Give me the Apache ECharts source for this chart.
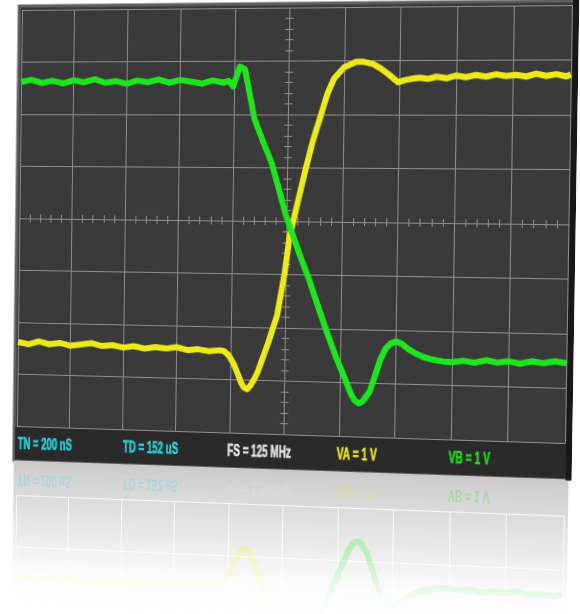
<!DOCTYPE html>
<html><head><meta charset="utf-8">
<script src="https://cdn.jsdelivr.net/npm/echarts@6/dist/echarts.min.js"></script>
<style>html,body{margin:0;padding:0;background:#fff;overflow:hidden}#c{width:580px;height:614px;transform-origin:0 0}</style>
</head><body><div id="c"></div>
<script>
// Channel A (yellow) trace: time in ns, volts (1 V/div, 200 ns/div)
const vaTime  = [-1000,-960,-920,-880,-840,-800,-760,-720,-680,-640,-600,-560,-520,-480,-440,-400,-360,-320,-280,-240,-225,-205,-187,-170,-160,-150,-137,-125,-112,-100,-82,-63,-31,-5,10,38,65,90,117,140,164,200,243,270,303,330,359,393,420,440,470,500,530,565,600,635,670,705,740,775,810,845,880,915,950,985,1000];
const vaVolts = [-2.38,-2.42,-2.36,-2.41,-2.38,-2.43,-2.40,-2.37,-2.42,-2.40,-2.44,-2.41,-2.45,-2.42,-2.44,-2.41,-2.46,-2.44,-2.47,-2.45,-2.46,-2.55,-2.71,-2.92,-3.05,-3.14,-3.17,-3.10,-2.98,-2.85,-2.58,-2.30,-1.77,-0.95,-0.30,0.35,0.97,1.50,1.97,2.38,2.67,2.88,2.98,2.98,2.94,2.86,2.75,2.60,2.64,2.66,2.68,2.66,2.70,2.67,2.72,2.69,2.73,2.70,2.74,2.71,2.73,2.70,2.75,2.71,2.74,2.70,2.73];
// Channel B (green) trace
const vbTime  = [-1000,-960,-920,-880,-840,-800,-760,-720,-680,-640,-600,-560,-520,-480,-440,-400,-360,-320,-280,-240,-220,-203,-180,-161,-145,-124,-92,-60,-32,-4,19,50,84,115,149,183,217,240,255,269,282,295,307,330,345,364,382,400,420,445,472,500,530,565,600,640,680,720,760,800,840,880,920,960,1000];
const vbVolts = [2.62,2.66,2.60,2.64,2.59,2.65,2.61,2.67,2.60,2.63,2.58,2.64,2.61,2.66,2.60,2.65,2.62,2.58,2.64,2.60,2.63,2.53,2.90,2.85,2.45,1.92,1.50,1.11,0.62,0.11,-0.21,-0.65,-1.09,-1.55,-2.04,-2.50,-2.91,-3.20,-3.33,-3.38,-3.35,-3.25,-3.17,-2.80,-2.55,-2.34,-2.25,-2.21,-2.25,-2.35,-2.43,-2.49,-2.53,-2.56,-2.57,-2.54,-2.57,-2.52,-2.56,-2.53,-2.57,-2.52,-2.55,-2.51,-2.54];
// Scope settings labels
const labelTexts  = ['TN = 200 nS','TD = 152 uS','FS = 125 MHz','VA = 1 V','VB = 1 V'];
const labelColors = ['#2cd2de','#2cd2de','#e2e2e2','#ebe71c','#1fdc1f'];
const labelX = [19,130,238,349,460];

const va = vaTime.map((t,i)=>[t,vaVolts[i]]);
const vb = vbTime.map((t,i)=>[t,vbVolts[i]]);

// ---- perspective of the scope screen (flat layout -> tilted screen) ----
function homography(src, dst){
  const A=[], b=[];
  for(let i=0;i<4;i++){
    const [u,v]=src[i], [x,y]=dst[i];
    A.push([u,v,1,0,0,0,-u*x,-v*x]); b.push(x);
    A.push([0,0,0,u,v,1,-u*y,-v*y]); b.push(y);
  }
  const n=8;
  for(let c=0;c<n;c++){
    let p=c; for(let r=c+1;r<n;r++) if(Math.abs(A[r][c])>Math.abs(A[p][c])) p=r;
    [A[c],A[p]]=[A[p],A[c]]; [b[c],b[p]]=[b[p],b[c]];
    for(let r=0;r<n;r++){ if(r===c) continue; const f=A[r][c]/A[c][c];
      for(let k=c;k<n;k++) A[r][k]-=f*A[c][k]; b[r]-=f*b[c]; }
  }
  return b.map((v,i)=>v/A[i][i]);
}
const srcQuad=[[18,8],[573,8],[573,428],[18,428]];
const dstQuad=[[22,10],[572,5],[565,443],[17,426]];
const H=homography(srcQuad,dstQuad);
const el=document.getElementById('c');
el.style.transform=`matrix3d(${H[0]},${H[3]},0,${H[6]},${H[1]},${H[4]},0,${H[7]},0,0,1,0,${H[2]},${H[5]},0,1)`;

const chart = echarts.init(el, null, {renderer:'canvas'});
const gridCol = '#8e8e8e';
const font = '"Liberation Sans",Arial,sans-serif';
const LBL_Y = 447, REFL_LBL_Y = 481;

const graphics = [
  {type:'rect', z:-20, shape:{x:15,y:4,width:562,height:459}, style:{fill:'#3a3a3a', stroke:'#606060', lineWidth:3}},
  {type:'rect', z:-19, shape:{x:16,y:429,width:560,height:33}, style:{fill:'#2a2a2a'}},
  {type:'rect', z:-18, shape:{x:574,y:3,width:6,height:461}, style:{fill:'#181818'}},
  {type:'rect', z:-20, shape:{x:15,y:463,width:562,height:170}, style:{fill:{type:'linear',x:0,y:0,x2:0,y2:1,colorStops:[{offset:0,color:'#c4c4c4'},{offset:0.5,color:'#e4e4e4'},{offset:1,color:'#ffffff'}]}}},
  {type:'rect', z:60, shape:{x:0,y:463,width:580,height:170}, style:{fill:{type:'linear',x:0,y:0,x2:0,y2:1,colorStops:[{offset:0,color:'rgba(255,255,255,0.1)'},{offset:0.45,color:'rgba(255,255,255,0.35)'},{offset:0.75,color:'rgba(255,255,255,0.95)'},{offset:1,color:'rgba(255,255,255,1)'}]}}}
];
labelTexts.forEach((t,i)=>{
  graphics.push({type:'text', z:70, x:labelX[i], y:LBL_Y, scaleX:0.63, style:{text:t, fill:labelColors[i], stroke:labelColors[i], lineWidth:0.6, font:'bold 16px '+font, textVerticalAlign:'middle'}});
  graphics.push({type:'text', z:50, x:labelX[i], y:REFL_LBL_Y, scaleX:0.63, scaleY:-1, style:{text:t, fill:labelColors[i], opacity:0.3, font:'bold 16px '+font, textVerticalAlign:'middle'}});
});

const xBase = {type:'value', min:-1000, max:1000, interval:200, axisLabel:{show:false}, axisTick:{show:false}, axisLine:{show:false}};
const yBase = {type:'value', min:-4, max:4, interval:1, axisLabel:{show:false}, axisTick:{show:false}, axisLine:{show:false}};

chart.setOption({
  animation:false,
  backgroundColor:'#ffffff',
  graphic:graphics,
  grid:[
    {left:18, top:8, width:555, height:420},
    {left:18, top:498, width:555, height:115.5}
  ],
  xAxis:[
    Object.assign({}, xBase, {gridIndex:0, splitLine:{show:true, lineStyle:{color:gridCol, width:1}}}),
    Object.assign({}, xBase, {gridIndex:0, interval:40, splitLine:{show:false}, axisLine:{show:false, onZero:true}, axisTick:{show:true, inside:true, length:4, lineStyle:{color:gridCol}}}),
    Object.assign({}, xBase, {gridIndex:0, interval:40, splitLine:{show:false}, axisLine:{show:false, onZero:true}, axisTick:{show:true, inside:false, length:4, lineStyle:{color:gridCol}}}),
    Object.assign({}, xBase, {gridIndex:1, splitLine:{show:true, lineStyle:{color:'rgba(255,255,255,0.75)', width:1}}})
  ],
  yAxis:[
    Object.assign({}, yBase, {gridIndex:0, splitLine:{show:true, lineStyle:{color:gridCol, width:1}}}),
    Object.assign({}, yBase, {gridIndex:0, interval:0.2, splitLine:{show:false}, axisLine:{show:false, onZero:true}, axisTick:{show:true, inside:true, length:4, lineStyle:{color:gridCol}}}),
    Object.assign({}, yBase, {gridIndex:0, interval:0.2, splitLine:{show:false}, axisLine:{show:false, onZero:true}, axisTick:{show:true, inside:false, length:4, lineStyle:{color:gridCol}}}),
    Object.assign({}, yBase, {gridIndex:1, max:-1.8, inverse:true, splitLine:{show:true, lineStyle:{color:'rgba(255,255,255,0.75)', width:1}}})
  ],
  series:[
    {type:'line', name:'VA', xAxisIndex:0, yAxisIndex:0, data:va, showSymbol:false, lineStyle:{color:'#eeea1a', width:6, join:'round'}, z:5},
    {type:'line', name:'VB', xAxisIndex:0, yAxisIndex:0, data:vb, showSymbol:false, lineStyle:{color:'#1ee61e', width:6, join:'round'}, z:6},
    {type:'line', name:'VA reflection', xAxisIndex:3, yAxisIndex:3, data:va, showSymbol:false, clip:true, lineStyle:{color:'#eeea1a', width:6, opacity:0.4}, z:5},
    {type:'line', name:'VB reflection', xAxisIndex:3, yAxisIndex:3, data:vb, showSymbol:false, clip:true, lineStyle:{color:'#1ee61e', width:6, opacity:0.4}, z:6}
  ]
});
</script></body></html>
